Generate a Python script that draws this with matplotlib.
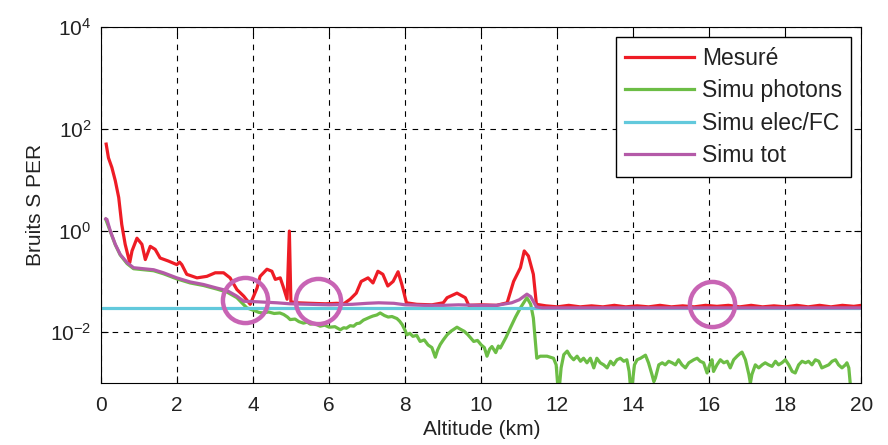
import numpy as np
import matplotlib.pyplot as plt

plt.rcParams['font.family'] = ['Liberation Sans', 'DejaVu Sans']

# altitude (km) / noise, noise stored as decade exponent (log10)
mes_alt = [0.13, 0.19, 0.28, 0.37, 0.46, 0.54, 0.63, 0.75, 0.81, 0.94, 1.07, 1.16, 1.29, 1.42,
           1.55, 1.77, 1.99, 2.06, 2.12, 2.25, 2.52, 2.78, 3.00, 3.22, 3.39, 3.57, 3.75, 3.92,
           4.10, 4.18, 4.36, 4.49, 4.58, 4.71, 4.80, 4.89, 4.95, 4.99, 5.15, 5.5, 5.9, 6.2,
           6.38, 6.55, 6.71, 6.84, 7.02, 7.15, 7.28, 7.41, 7.54, 7.68, 7.81, 7.91, 8.03, 8.3,
           8.7, 9.0, 9.10, 9.36, 9.58, 9.67, 10.0, 10.4, 10.68, 10.85, 11.03, 11.13, 11.24,
           11.37, 11.45, 11.7, 12.0, 12.3, 12.6, 12.9, 13.2, 13.5, 13.8, 14.1, 14.4, 14.7,
           15.0, 15.3, 15.6, 15.9, 16.2, 16.5, 16.8, 17.1, 17.4, 17.7, 18.0, 18.3, 18.6, 18.9,
           19.2, 19.5, 19.8, 20.0]
mes_exp = [1.70, 1.43, 1.24, 0.98, 0.65, 0.12, -0.27, -0.63, -0.40, -0.15, -0.27, -0.57, -0.31,
           -0.37, -0.54, -0.60, -0.67, -0.62, -0.67, -0.86, -0.93, -0.90, -0.83, -0.83, -0.93,
           -1.16, -1.29, -1.45, -1.13, -0.90, -0.76, -0.80, -0.96, -0.93, -1.13, -1.35, -0.01,
           -1.40, -1.42, -1.43, -1.44, -1.43, -1.44, -1.35, -1.23, -1.00, -0.93, -1.03, -0.80,
           -0.86, -1.09, -1.00, -0.81, -1.06, -1.42, -1.45, -1.46, -1.42, -1.32, -1.23, -1.32,
           -1.47, -1.46, -1.47, -1.42, -1.00, -0.73, -0.40, -0.50, -0.86, -1.45, -1.48, -1.50,
           -1.47, -1.50, -1.48, -1.50, -1.47, -1.50, -1.48, -1.50, -1.47, -1.50, -1.48, -1.50,
           -1.47, -1.49, -1.47, -1.50, -1.47, -1.50, -1.48, -1.50, -1.47, -1.50, -1.47, -1.50,
           -1.47, -1.49, -1.47]

pho_alt = [0.12, 0.24, 0.37, 0.50, 0.68, 0.85, 1.11, 1.38, 1.64, 1.99, 2.34, 2.69, 3.04, 3.31,
           3.57, 3.83, 4.05, 4.15, 4.27, 4.40, 4.55, 4.70, 4.80, 4.90, 4.97, 5.10, 5.20, 5.32,
           5.42, 5.50, 5.62, 5.76, 5.88, 6.00, 6.15, 6.29, 6.38, 6.45, 6.55, 6.64, 6.72, 6.80,
           6.90, 6.99, 7.08, 7.15, 7.25, 7.34, 7.45, 7.55, 7.65, 7.78, 7.85, 7.92, 8.00, 8.04,
           8.12, 8.20, 8.30, 8.39, 8.50, 8.60, 8.70, 8.79, 8.85, 8.92, 9.00, 9.10, 9.20, 9.36,
           9.45, 9.55, 9.65, 9.80, 9.90, 10.00, 10.08, 10.15, 10.22, 10.28, 10.38, 10.45,
           10.50, 10.58, 10.65, 10.76, 10.90, 11.03,
           11.20, 11.30, 11.37, 11.46, 11.55, 11.73, 11.90, 11.97, 12.01, 12.06, 12.10, 12.17,
           12.26, 12.34, 12.43, 12.52, 12.61, 12.69, 12.78, 12.87, 12.96, 13.04, 13.13, 13.22,
           13.31, 13.40, 13.48, 13.57, 13.66, 13.75, 13.83, 13.89, 13.92, 13.97, 14.03, 14.10,
           14.19, 14.32, 14.40, 14.49, 14.54, 14.58, 14.67, 14.76, 14.84, 14.93, 15.02, 15.11,
           15.19, 15.28, 15.37, 15.46, 15.59, 15.68, 15.76, 15.85, 15.94, 16.01, 16.07, 16.11,
           16.20, 16.29, 16.38, 16.47, 16.55, 16.64, 16.73, 16.82, 16.86, 16.95, 17.04, 17.08,
           17.12, 17.21, 17.30, 17.39, 17.47, 17.56, 17.65, 17.74, 17.82, 17.91, 18.00, 18.09,
           18.18, 18.26, 18.35, 18.44, 18.53, 18.61, 18.70, 18.79, 18.88, 18.96, 19.05, 19.14,
           19.23, 19.32, 19.40, 19.49, 19.58, 19.62, 19.67, 19.71]
pho_exp = [0.22, -0.02, -0.28, -0.48, -0.65, -0.75, -0.77, -0.79, -0.85, -0.95, -1.03, -1.08,
           -1.15, -1.21, -1.32, -1.52, -1.58, -1.61, -1.62, -1.60, -1.63, -1.62, -1.65, -1.70,
           -1.75, -1.74, -1.79, -1.82, -1.80, -1.84, -1.83, -1.88, -1.86, -1.90, -1.89, -1.95,
           -1.91, -1.92, -1.87, -1.88, -1.83, -1.82, -1.76, -1.73, -1.70, -1.68, -1.66, -1.62,
           -1.67, -1.70, -1.69, -1.73, -1.78, -1.85, -1.97, -2.05, -2.02, -2.08, -2.06, -2.18,
           -2.15, -2.25, -2.30, -2.49, -2.35, -2.24, -2.15, -2.05, -1.98, -1.90, -1.94, -1.98,
           -2.05, -2.18, -2.16, -2.25, -2.30, -2.47, -2.33, -2.28, -2.40, -2.27, -2.31, -2.20,
           -2.10, -1.92, -1.70, -1.52,
           -1.32, -1.45, -1.72, -2.51, -2.47, -2.47,
           -2.51, -2.64, -3.03, -3.03, -2.70, -2.44, -2.37, -2.47, -2.54, -2.47, -2.57, -2.51,
           -2.60, -2.51, -2.70, -2.51, -2.60, -2.64, -2.70, -2.57, -2.64, -2.54, -2.51, -2.57,
           -2.54, -2.77, -3.03, -3.03, -2.64, -2.54, -2.51, -2.45, -2.60, -2.83, -2.97, -2.90,
           -2.64, -2.60, -2.64, -2.57, -2.60, -2.64, -2.54, -2.64, -2.70, -2.60, -2.54, -2.51,
           -2.57, -2.60, -2.80, -2.64, -2.54, -2.77, -2.64, -2.54, -2.60, -2.57, -2.70, -2.54,
           -2.47, -2.41, -2.39, -2.54, -2.83, -3.00, -2.83, -2.64, -2.70, -2.64, -2.60, -2.64,
           -2.67, -2.57, -2.64, -2.60, -2.54, -2.64, -2.77, -2.80, -2.64, -2.57, -2.60, -2.57,
           -2.64, -2.54, -2.57, -2.70, -2.67, -2.64, -2.57, -2.54, -2.64, -2.70, -2.64, -2.60,
           -2.70, -3.03]

elec_alt = [0.0, 20.0]
elec_val = [0.03, 0.03]

tot_alt = [0.12, 0.15, 0.24, 0.37, 0.50, 0.68, 0.85, 1.11, 1.38, 1.64, 1.99, 2.34, 2.69, 3.04,
           3.31, 3.57, 3.75, 4.10, 4.62, 4.97, 5.5, 6.0, 6.6, 7.0, 7.3, 7.7, 8.0, 8.5, 9.0, 9.4,
           9.9, 10.4, 10.8, 11.0, 11.2, 11.3, 11.45, 11.6, 12.5, 20.0]
tot_exp = [0.23, 0.22, -0.01, -0.27, -0.47, -0.63, -0.73, -0.75, -0.77, -0.83, -0.93, -1.01,
           -1.06, -1.13, -1.18, -1.29, -1.39, -1.40, -1.42, -1.44, -1.45, -1.46, -1.45, -1.43,
           -1.42, -1.43, -1.46, -1.47, -1.47, -1.46, -1.47, -1.47, -1.42, -1.36, -1.25, -1.30,
           -1.50, -1.52, -1.52, -1.52]

# highlighted zones
ring_alt = [3.79, 5.71, 16.08]
ring_val = [0.043, 0.041, 0.036]

fig = plt.figure(figsize=(8.88, 4.45), dpi=100)
ax = fig.add_axes([0.114, 0.139, 0.856, 0.8])

ax.plot(mes_alt, 10 ** np.array(mes_exp), color='#ee1c25', lw=2.3, label='Mesuré')
ax.plot(pho_alt, 10 ** np.array(pho_exp), color='#6cbd45', lw=2.3, label='Simu photons')
ax.plot(elec_alt, elec_val, color='#62c9dc', lw=2.3, label='Simu elec/FC')
ax.plot(tot_alt, 10 ** np.array(tot_exp), color='#b45aa8', lw=2.3, label='Simu tot')
ax.plot(ring_alt, ring_val, ls='none', marker='o', ms=32.5, mfc='none',
        mec='#c864b4', mew=3.2)

ax.set_yscale('log')
ax.set_xlim(0, 20)
ax.set_ylim(1e-3, 1e4)
ax.set_xticks(range(0, 21, 2))
ax.set_yticks([1e-2, 1e0, 1e2, 1e4])
ax.minorticks_off()
ax.tick_params(direction='in', top=True, right=True, labelsize=15, length=5,
               labelcolor='#222222')
ax.tick_params(axis='x', pad=9)
ax.tick_params(axis='y', pad=7)
ax.grid(True, color='black', ls=(0, (5, 5)), lw=0.8)
ax.set_xlabel('Altitude (km)', fontsize=15, labelpad=4, color='#222222')
ax.set_ylabel('Bruits S PER', fontsize=15, color='#222222')

leg = ax.legend(loc='upper right', fontsize=16.5, fancybox=False, framealpha=1,
                edgecolor='black', handlelength=3.0, handletextpad=0.35,
                labelspacing=0.42, borderaxespad=0.45)
leg.get_frame().set_linewidth(1)
for t in leg.get_texts():
    t.set_color('#222222')

fig.savefig('out.png', dpi=100)
